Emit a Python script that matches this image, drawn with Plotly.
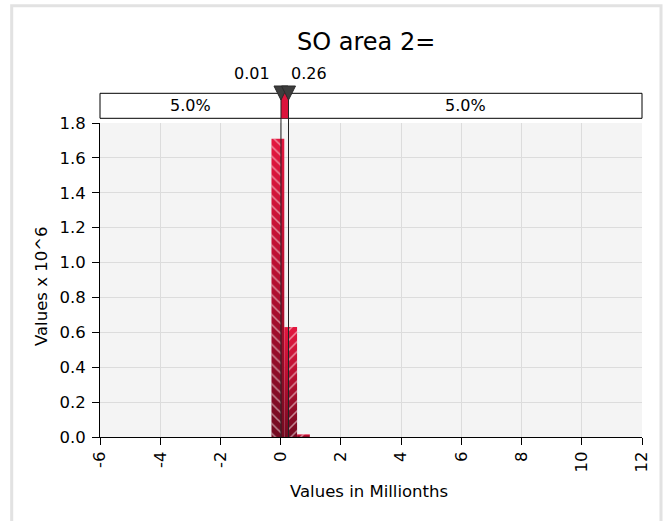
import plotly.graph_objects as go

# ---------------- data ----------------
title_text = "SO area 2="
x_title = "Values in Millionths"
y_title = "Values x 10^6"

bin_edges = [-5.830, -5.405, -4.980, -4.555, -4.130, -3.705, -3.280, -2.855,
             -2.430, -2.005, -1.580, -1.155, -0.730, -0.305, 0.120, 0.545,
             0.970, 1.395, 1.820, 2.245, 2.670, 3.095, 3.520, 3.945,
             4.370, 4.795, 5.220, 5.645, 6.070, 6.495, 6.920, 7.345,
             7.770, 8.195, 8.620, 9.045, 9.470, 9.895, 10.320, 10.745, 11.170]
bin_values = [0.004, 0.004, 0.004, 0.004, 0.004, 0.004, 0.004, 0.004,
              0.004, 0.004, 0.004, 0.004, 0.004, 1.71, 0.63, 0.015,
              0.004, 0.004, 0.004, 0.004, 0.004, 0.004, 0.004, 0.004,
              0.004, 0.004, 0.004, 0.004, 0.004, 0.004, 0.004, 0.004,
              0.004, 0.004, 0.004, 0.004, 0.004, 0.004, 0.004, 0.004]

delim_low = 0.01
delim_high = 0.26
delim_low_label = "0.01"
delim_high_label = "0.26"
pct_left = "5.0%"
pct_right = "5.0%"

x_tick_values = [-6, -4, -2, 0, 2, 4, 6, 8, 10, 12]
x_tick_labels = ["-6", "-4", "-2", "0", "2", "4", "6", "8", "10", "12"]
y_tick_values = [0.0, 0.2, 0.4, 0.6, 0.8, 1.0, 1.2, 1.4, 1.6, 1.8]
y_tick_labels = ["0.0", "0.2", "0.4", "0.6", "0.8", "1.0", "1.2", "1.4", "1.6", "1.8"]
x_min, x_max = -6, 12
y_min, y_max = 0, 1.8

# ---------------- style ----------------
FONT = "DejaVu Sans"
W, H = 663, 521
ML, MR, MT, MB = 100, 21, 123, 84
PW, PH = W - ML - MR, H - MT - MB


def px_to_paper_x(px):
    return (px - ML) / PW


def px_to_paper_y(py):
    return (H - MB - py) / PH


grad = [[0, "#730a21"], [0.55, "#b80f31"], [1, "#e3173f"]]

fig = go.Figure()

for a, b, v in zip(bin_edges[:-1], bin_edges[1:], bin_values):
    parts = []
    if a < delim_low:
        parts.append((a, min(b, delim_low), "left"))
    if b > delim_low and a < delim_high:
        parts.append((max(a, delim_low), min(b, delim_high), "mid"))
    if b > delim_high:
        parts.append((max(a, delim_high), b, "right"))
    for x0, x1, kind in parts:
        xs = [x0, x1, x1, x0, x0]
        ys = [0, 0, v, v, 0]
        fig.add_trace(go.Scatter(
            x=xs, y=ys, mode="lines", fill="toself",
            line=dict(width=0, color="rgba(0,0,0,0)"),
            fillgradient=dict(type="vertical", colorscale=grad),
            hoverinfo="skip", showlegend=False))
        if kind != "mid":
            fig.add_trace(go.Scatter(
                x=xs, y=ys, mode="lines", fill="toself",
                line=dict(width=0, color="rgba(0,0,0,0)"),
                fillcolor="rgba(0,0,0,0)",
                fillpattern=dict(shape="\\" if kind == "left" else "/",
                                 fgcolor="white", bgcolor="rgba(0,0,0,0)",
                                 fillmode="overlay", size=7, solidity=0.22),
                hoverinfo="skip", showlegend=False))

bar_y0 = px_to_paper_y(118.3)
bar_y1 = px_to_paper_y(93.3)

shapes = []
# outer frame
shapes.append(dict(type="rect", xref="paper", yref="paper",
                   x0=px_to_paper_x(11.7), x1=px_to_paper_x(661),
                   y0=px_to_paper_y(540), y1=px_to_paper_y(5.7),
                   line=dict(color="#e2e2e2", width=3), layer="below"))
# delimiter bar
shapes.append(dict(type="rect", xref="paper", yref="paper",
                   x0=0, x1=1, y0=bar_y0, y1=bar_y1,
                   line=dict(color="black", width=1), fillcolor="white"))
shapes.append(dict(type="rect", xref="x", yref="paper",
                   x0=delim_low, x1=delim_high, y0=bar_y0, y1=bar_y1,
                   line=dict(width=0), fillcolor="#dc143c"))
# delimiter lines
for d in (delim_low, delim_high):
    shapes.append(dict(type="line", xref="x", yref="paper",
                       x0=d, x1=d, y0=0, y1=bar_y1,
                       line=dict(color="#222222", width=1), layer="above"))
# triangles
for d in (delim_low, delim_high):
    shapes.append(dict(type="path", xref="x", yref="paper",
                       xsizemode="pixel", ysizemode="pixel",
                       xanchor=d, yanchor=px_to_paper_y(100),
                       path="M -7,14 L 7,14 L 0,0 Z",
                       fillcolor="#3d3d3d", line=dict(color="#2a2a2a", width=1),
                       layer="above"))

annotations = [
    dict(text=title_text, xref="paper", yref="paper",
         x=px_to_paper_x(366), y=px_to_paper_y(42), xanchor="center", yanchor="middle",
         showarrow=False, font=dict(family=FONT, size=24, color="black")),
    dict(text=x_title, xref="paper", yref="paper",
         x=px_to_paper_x(369), y=px_to_paper_y(491), xanchor="center", yanchor="middle",
         showarrow=False, font=dict(family=FONT, size=16.5, color="black")),
    dict(text=y_title, xref="paper", yref="paper", textangle=-90,
         x=px_to_paper_x(41), y=px_to_paper_y(287), xanchor="center", yanchor="middle",
         showarrow=False, font=dict(family=FONT, size=16.5, color="black")),
    dict(text=delim_low_label, xref="x", yref="paper", x=delim_low, xshift=-9,
         y=px_to_paper_y(73.5), xanchor="right", yanchor="middle",
         showarrow=False, font=dict(family=FONT, size=16, color="black")),
    dict(text=delim_high_label, xref="x", yref="paper", x=delim_high, xshift=0,
         y=px_to_paper_y(73.5), xanchor="left", yanchor="middle",
         showarrow=False, font=dict(family=FONT, size=16, color="black")),
    dict(text=pct_left, xref="x", yref="paper", x=(x_min + delim_low) / 2,
         y=(bar_y0 + bar_y1) / 2, xanchor="center", yanchor="middle",
         showarrow=False, font=dict(family=FONT, size=16, color="black")),
    dict(text=pct_right, xref="x", yref="paper", x=(delim_high + x_max) / 2,
         y=(bar_y0 + bar_y1) / 2, xanchor="center", yanchor="middle",
         showarrow=False, font=dict(family=FONT, size=16, color="black")),
]

fig.update_layout(
    width=W, height=H,
    margin=dict(l=ML, r=MR, t=MT, b=MB, autoexpand=False),
    paper_bgcolor="white", plot_bgcolor="#f4f4f4",
    font=dict(family=FONT, size=16, color="black"),
    shapes=shapes, annotations=annotations, showlegend=False,
    xaxis=dict(range=[x_min, x_max], tickmode="array",
               tickvals=x_tick_values, ticktext=x_tick_labels,
               tickangle=-90, showgrid=True, gridcolor="#dcdcdc", gridwidth=1,
               zeroline=False, showline=True, linecolor="black", linewidth=1,
               ticks="outside", ticklen=7, tickcolor="black",
               tickfont=dict(family=FONT, size=16.5, color="black"), fixedrange=True),
    yaxis=dict(range=[y_min, y_max], tickmode="array",
               tickvals=y_tick_values, ticktext=y_tick_labels,
               showgrid=True, gridcolor="#dcdcdc", gridwidth=1,
               zeroline=False, showline=True, linecolor="black", linewidth=1,
               ticks="outside", ticklen=7, tickcolor="black", ticklabelstandoff=3,
               tickfont=dict(family=FONT, size=16.5, color="black"), fixedrange=True),
)

fig.write_html("out.html")
